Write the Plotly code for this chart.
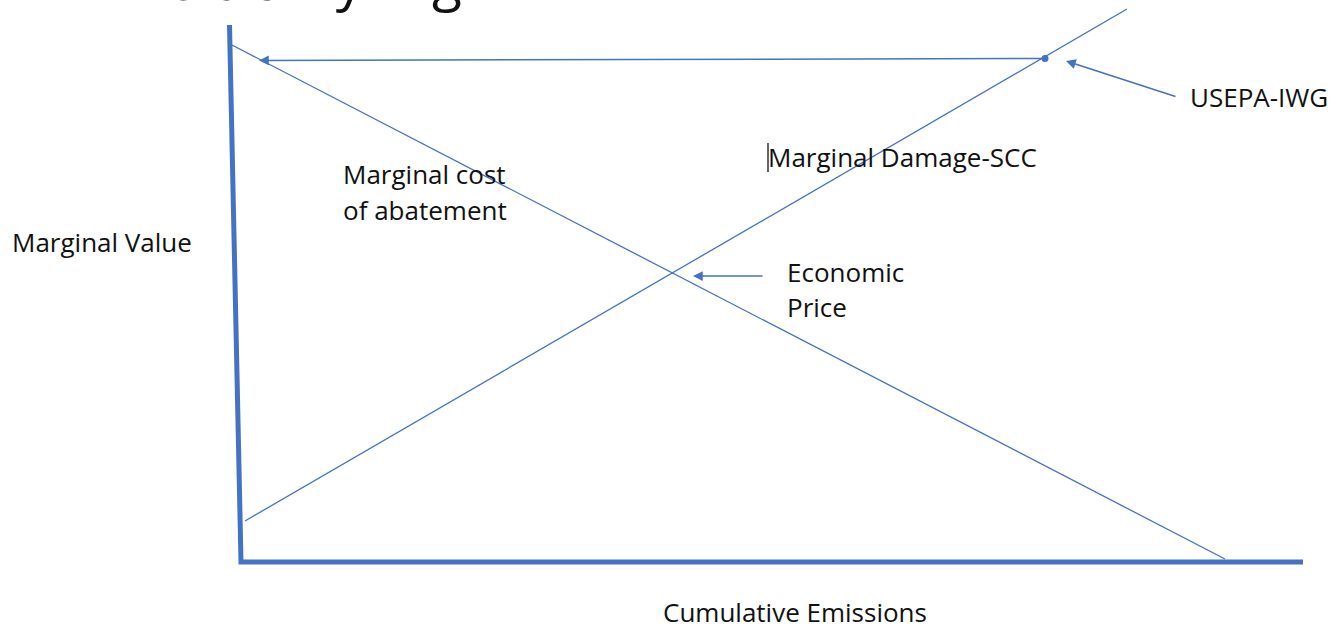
import plotly.graph_objects as go

W, H = 1335, 627
BLUE = "#4472C4"
TXT = "#111111"
FONT = "Open Sans"

# Diagram coordinates (horizontal: emissions units, vertical: value units, origin top-left)
axes_x = [229.5, 241, 1303]
axes_y = [25, 562, 562]

mca_x = [232, 1225]          # marginal cost of abatement
mca_y = [45, 559]
md_x = [245, 1127]           # marginal damage - SCC
md_y = [521, 9]

usepa_pt_x = [1045]
usepa_pt_y = [58.5]

# arrows: (tip_x, tip_y, tail_x, tail_y)
arrow_tip_x = [259, 1066, 693]
arrow_tip_y = [60.5, 61, 276]
arrow_tail_x = [1045, 1177, 764]
arrow_tail_y = [58.5, 97, 276]

labels = ["Marginal cost", "of abatement", "Marginal Value", "Economic", "Price",
          "USEPA-IWG", "Marginal Damage-SCC"]
label_x = [341, 341, 10, 785, 785, 1188, 766]
label_y = [174, 210, 242, 272, 307, 97, 157]

x_title = "Cumulative Emissions"
x_title_pos = (795, 612)
top_title = "Arbitrarily High"

fig = go.Figure()
fig.add_trace(go.Scatter(x=axes_x, y=axes_y, mode="lines",
                         line=dict(color=BLUE, width=5), hoverinfo="skip"))
fig.add_trace(go.Scatter(x=mca_x, y=mca_y, mode="lines",
                         line=dict(color=BLUE, width=1.3), hoverinfo="skip"))
fig.add_trace(go.Scatter(x=md_x, y=md_y, mode="lines",
                         line=dict(color=BLUE, width=1.3), hoverinfo="skip"))
fig.add_trace(go.Scatter(x=usepa_pt_x, y=usepa_pt_y, mode="markers",
                         marker=dict(color=BLUE, size=7), hoverinfo="skip"))

ann = []
for tx, ty, sx, sy in zip(arrow_tip_x, arrow_tip_y, arrow_tail_x, arrow_tail_y):
    ann.append(dict(x=tx, y=ty, ax=sx, ay=sy, xref="x", yref="y", axref="x", ayref="y",
                    text="", showarrow=True, arrowhead=2, arrowsize=1.3,
                    arrowwidth=1.5, arrowcolor=BLUE, standoff=0, startstandoff=0))
for t, x, y in zip(labels, label_x, label_y):
    ann.append(dict(x=x, y=y, xref="x", yref="y", text=t, showarrow=False,
                    xanchor="left", yanchor="middle",
                    font=dict(family=FONT, size=26, color=TXT)))
ann.append(dict(x=x_title_pos[0], y=x_title_pos[1], xref="x", yref="y", text=x_title,
                showarrow=False, xanchor="center", yanchor="middle",
                font=dict(family=FONT, size=26, color=TXT)))
ann.append(dict(x=106, y=18, xref="x", yref="y", text=top_title, showarrow=False,
                xanchor="left", yanchor="bottom",
                font=dict(family=FONT, size=55, color=TXT)))

fig.update_layout(
    width=W, height=H, margin=dict(l=0, r=0, t=0, b=0),
    paper_bgcolor="white", plot_bgcolor="white", showlegend=False,
    xaxis=dict(range=[0, W], visible=False, fixedrange=True),
    yaxis=dict(range=[H, 0], visible=False, fixedrange=True),
    annotations=ann,
    shapes=[dict(type="line", xref="x", yref="y", x0=768, x1=768, y0=143, y1=172,
                 line=dict(color="#333333", width=1.5))],
)
fig.write_html("out.html", config={"displayModeBar": False},
               post_script="document.body.style.margin='0';document.body.style.overflow='hidden';")
